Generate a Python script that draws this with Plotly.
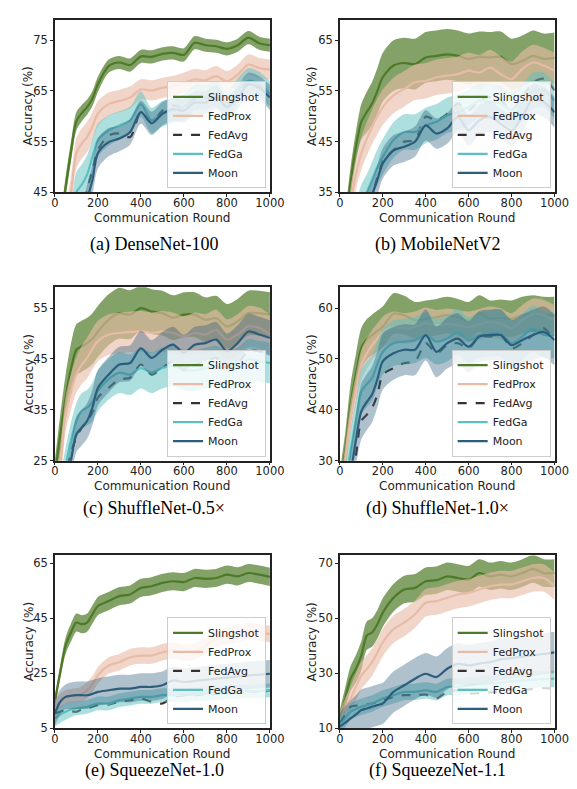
import plotly.graph_objects as go

# ---------------- data ----------------
rounds = [0, 25, 50, 75, 100, 125, 150, 175, 200, 250, 300, 350, 400, 450, 500,
          550, 600, 650, 700, 750, 800, 850, 900, 950, 1000]
methods = ["Slingshot", "FedProx", "FedAvg", "FedGa", "Moon"]
captions = ["(a) DenseNet-100", "(b) MobileNetV2", "(c) ShuffleNet-0.5×",
            "(d) ShuffleNet-1.0×", "(e) SqueezeNet-1.0", "(f) SqueezeNet-1.1"]
y_ranges = [[45, 79], [35, 69], [25, 59.1], [30, 64.1], [5, 67.8], [10, 72.8]]
y_ticks = [[45, 55, 65, 75], [35, 45, 55, 65], [25, 35, 45, 55],
           [30, 40, 50, 60], [5, 25, 45, 65], [10, 30, 50, 70]]
x_ticks = [0, 200, 400, 600, 800, 1000]

# (a) DenseNet-100
a_slingshot = [30, 38, 46, 53, 59, 60.6, 61.8, 63.5, 66.3, 69.9, 70.6, 70.1, 71.8, 71.7, 72.3, 72.5, 72.1, 74.5, 74, 73.8, 73.3, 74, 75.5, 74.4, 74]
a_fedprox = [25, 32, 39, 45, 52.7, 54.6, 55.9, 58, 60.5, 62.4, 63, 63.7, 65.3, 65.1, 65.6, 66, 66.6, 67.3, 67.1, 67.9, 66.9, 68.2, 70.2, 69.5, 69.2]
a_fedavg = [12, 18, 24, 30, 36, 41, 45.5, 49.5, 53.3, 56.2, 56.6, 55.9, 60.8, 58.8, 61.1, 62.1, 61.8, 63.4, 63.4, 64.2, 61.8, 64.4, 66.8, 66, 63.7]
a_fedga = [15, 22, 29, 38, 45, 46.5, 48.5, 52, 55.3, 57.2, 58.2, 59.2, 62.4, 59.2, 60.5, 61.1, 61.8, 63.7, 63.8, 64.4, 62.4, 65, 67, 66.3, 64.4]
a_moon = [10, 16, 22, 28, 34, 39, 43.5, 47.5, 52.7, 54.9, 55.6, 56.9, 60.8, 58.6, 60.5, 61.4, 61.1, 62.7, 62.7, 63.7, 61.8, 63.7, 66.3, 65.6, 63.7]
a_slingshot_sd = [2, 2, 2, 2, 1.8, 1.6, 1.5, 1.5, 1.5, 1.3, 1.3, 1.3, 1.3, 1.3, 1.3, 1.3, 1.3, 1.3, 1.3, 1.3, 1.3, 1.3, 1.3, 1.3, 1.3]
a_fedprox_sd = [3, 3, 3, 3, 3, 3, 3, 2.8, 2.5, 2.3, 2.2, 2.2, 2, 2, 2, 2, 2, 2, 2, 2, 2, 2, 2, 2, 2]
a_fedga_sd = [4, 4, 4, 4, 4, 4, 3.8, 3.5, 3.2, 3, 2.8, 2.7, 2.5, 2.5, 2.5, 2.5, 2.5, 2.5, 2.5, 2.5, 2.5, 2.5, 2.5, 2.5, 2.5]
a_moon_sd = [3, 3, 3, 3, 3, 3, 3, 3, 3, 2.8, 2.5, 2.5, 2.3, 2.3, 2.3, 2.3, 2.3, 2.3, 2.3, 2.3, 2.3, 2.3, 2.3, 2.3, 2.5]

# (b) MobileNetV2
b_slingshot = [20, 28, 37, 44, 48.9, 50.8, 52.5, 55, 57.7, 60, 60.5, 60.3, 61.6, 61.9, 62.2, 61.9, 61.3, 61.7, 61.6, 61.7, 60.3, 60.9, 61.9, 61.3, 61.5]
b_fedprox = [12, 22, 33, 38.5, 42.7, 45.5, 47.9, 50, 51.8, 54.1, 55.4, 56.7, 57, 57.7, 58, 58.3, 59, 58.6, 59.6, 58.3, 57.3, 59.3, 60.6, 60, 59]
b_fedavg = [5, 10, 15, 20, 25, 30, 34, 38, 41, 43.3, 45, 45.3, 49.9, 49.2, 50.5, 52.5, 51.2, 53.1, 53.8, 53.1, 51.2, 53.8, 56.7, 57.4, 55.1]
b_fedga = [12, 18, 24, 29, 33, 35, 37.5, 40, 42, 45.3, 46.9, 46.9, 48.2, 48.9, 50.2, 50.8, 51.8, 53.1, 52.8, 52.5, 51.2, 52.8, 55.1, 55.1, 53.1]
b_moon = [8, 14, 20, 25, 29, 32, 34.5, 37.5, 40.7, 43.3, 44, 45, 48.2, 46.6, 47.6, 49.9, 47.2, 49.2, 49.9, 48.5, 47.2, 49.9, 53.4, 52.8, 50.8]
b_slingshot_sd = [3, 3, 3, 3, 3.5, 4, 4.2, 4.5, 4.8, 5, 5, 5, 5, 5, 5, 5, 5, 5, 5, 5, 5, 5, 5, 5, 5]
b_fedprox_sd = [3, 3, 3, 3, 3.2, 3.3, 3.4, 3.5, 3.5, 3.5, 3.5, 3.5, 3.5, 3.5, 3.5, 3.5, 3.5, 3.5, 3.5, 3.5, 3.5, 3.5, 3.5, 3.5, 3.5]
b_fedga_sd = [3.5, 3.5, 3.5, 3.5, 3.5, 3.5, 3.5, 3.5, 3.5, 3.5, 3.5, 3.5, 3.5, 3.5, 3.5, 3.5, 3.5, 3.5, 3.5, 3.5, 3.5, 3.5, 3.5, 3.5, 3.5]
b_moon_sd = [3, 3, 3, 3, 3, 3, 3, 3, 3, 3, 3, 3, 3, 3, 3, 3, 3, 3, 3, 3, 3, 3, 3, 3, 3]

# (c) ShuffleNet-0.5x
c_slingshot = [22, 30, 37.4, 43, 46.8, 47.5, 48.1, 49, 50.4, 52.7, 54, 53.7, 55, 54.3, 54, 53.1, 53.7, 53.7, 52.7, 53, 51.4, 52.4, 54, 54, 53.7]
c_fedprox = [18, 24, 34.1, 38.5, 41.9, 43.8, 45.2, 47, 48.5, 49.8, 50.1, 50.3, 50.4, 50.1, 50.4, 50.1, 49.4, 50.1, 49.8, 50.7, 48.8, 49.8, 51.4, 51.1, 49.8]
c_fedavg = [10, 14, 22, 26.5, 29.6, 31.5, 32.8, 34.5, 37.4, 39.3, 41, 41.3, 43.9, 41.9, 43.2, 44.5, 42.7, 43.9, 44.5, 45.2, 43.2, 44.2, 46.5, 46.5, 45.8]
c_fedga = [14, 19, 24, 29, 32.8, 34.8, 35.4, 36.5, 38.7, 41, 42.3, 41.9, 43.2, 42.3, 43.2, 43.6, 42.9, 42.7, 43.2, 43.6, 42.7, 43.2, 44.9, 44.5, 44.2]
c_moon = [8, 14, 19, 25, 30.2, 31.5, 32.8, 35.5, 39.3, 41.9, 43.9, 44.2, 47.1, 45.2, 46.8, 47.8, 46.2, 47.8, 48.1, 48.8, 46.5, 48.1, 50.4, 49.8, 49.1]
c_slingshot_sd = [3, 4, 4.5, 5, 5, 5, 5, 5, 5, 5, 5, 4.8, 4.4, 4.4, 4.4, 4.4, 4.4, 4.4, 4.4, 4.4, 4.4, 4.4, 4.4, 4.4, 4.4]
c_fedprox_sd = [3.5, 3.5, 3.5, 3.5, 3.5, 3.8, 4, 4, 4, 4, 4, 4, 4, 4, 4, 4, 4, 4, 4, 4, 4, 4, 4, 4, 4]
c_fedga_sd = [3, 3, 3.5, 3.5, 3.5, 3.5, 3.5, 3.8, 4, 4, 4, 4, 4, 4, 4, 4, 4, 4, 4, 4, 4, 4, 4, 4, 4]
c_moon_sd = [3.5, 3.5, 3.5, 3.5, 3.5, 3.5, 3.5, 3.5, 3.5, 3.5, 3.5, 3.5, 3.5, 3.5, 3.5, 3.5, 3.5, 3.5, 3.5, 3.5, 3.5, 3.5, 3.5, 3.5, 3.5]

# (d) ShuffleNet-1.0x
d_slingshot = [25, 32, 41, 47, 52.1, 53.8, 54.7, 55.5, 56.3, 58.9, 58.6, 57.6, 57.9, 58.2, 58.6, 58.2, 57.6, 58.9, 57.9, 58.1, 57.9, 58.6, 58.9, 58.6, 58.6]
d_fedprox = [22, 30, 38.4, 44, 48.8, 51, 52.7, 54, 55.3, 56.3, 56, 56.3, 57.1, 56.6, 56.9, 56.6, 56.3, 56.8, 57.3, 56.9, 56, 57.6, 58.9, 58.6, 57.6]
d_fedavg = [10, 17, 24, 31, 37.8, 39, 40.4, 43, 46.9, 48.2, 49.2, 49.5, 53.1, 51.1, 52.7, 53.1, 52.1, 54.4, 54.4, 54.7, 52.1, 53.1, 54.7, 56, 53.4]
d_fedga = [18, 25, 32, 38, 43.6, 45, 46.2, 49, 51.4, 53.1, 53.4, 53.7, 54.7, 53.4, 54, 55.3, 53.7, 54.7, 55, 55, 53.1, 54.4, 56, 54.7, 54.7]
d_moon = [12, 19, 27, 34, 39.7, 41.5, 43, 46, 49.5, 51.1, 51.8, 51.8, 54.7, 51.4, 53.1, 54, 52.4, 54.4, 54.7, 54.7, 52.7, 53.7, 54.7, 55.3, 53.7]
d_slingshot_sd = [3, 3.5, 4, 4, 4, 4, 4, 4, 4, 4, 3.8, 3.6, 3.6, 3.6, 3.6, 3.6, 3.6, 3.6, 3.6, 3.6, 3.6, 3.6, 3.6, 3.6, 3.6]
d_fedprox_sd = [3, 3, 3, 3, 3, 3, 3, 3, 3, 3, 3, 3, 3, 3, 3, 3, 3, 3, 3, 3, 3, 3, 3, 3, 3]
d_fedga_sd = [4, 4, 4, 4, 4.5, 4.5, 4.5, 4.5, 4.5, 4.5, 4.5, 4.5, 4.5, 4.5, 4.5, 4.5, 4.5, 4.5, 4.5, 4.5, 4.5, 4.5, 4.5, 4.5, 4.5]
d_moon_sd = [4, 4.5, 5, 5, 5.5, 5.5, 5.5, 5.5, 5.5, 5.2, 5, 5, 5, 5, 5, 5, 5, 5, 5, 5, 5, 5, 5, 5, 5]

# (e) SqueezeNet-1.0
e_slingshot = [14.6, 25.4, 35, 39.8, 43.4, 42.8, 43.4, 46.4, 49.4, 51.2, 53, 53.6, 56, 56.6, 57.8, 58.4, 58.1, 59.6, 59.3, 59.6, 60.8, 60.2, 61.4, 60.8, 60]
e_fedprox = [12.8, 15, 16.4, 16.8, 17, 17.5, 18.8, 21, 24.2, 27.8, 29, 30.8, 31.4, 31.4, 32.6, 33.2, 32.5, 33, 35, 37.6, 38.6, 39.2, 40.4, 39.8, 39.2]
e_fedavg = [10.4, 11, 11.6, 11.2, 11, 11.8, 12.2, 12.8, 13.4, 13.6, 14.6, 15.2, 15.8, 14.6, 14, 16.4, 16.8, 17, 17.2, 17.5, 17.8, 18, 18.5, 18.2, 18.8]
e_fedga = [8.6, 10, 11, 11.8, 12.2, 12.5, 12.8, 13.4, 14, 14, 15.2, 15.8, 16.4, 16.4, 17, 17, 17, 17.3, 17.5, 17.8, 18, 18.2, 18.5, 18.5, 18.8]
e_moon = [10.4, 14.6, 16.4, 16.8, 17, 17, 17, 17.5, 18.2, 18.8, 19.4, 19.4, 20, 20, 20.6, 22.4, 21.8, 22.2, 22.6, 23, 23.4, 23.8, 24.2, 24.5, 24.8]
e_slingshot_sd = [2, 2.5, 3, 3.3, 3.3, 3.3, 3.3, 3.3, 3.3, 3.3, 3.3, 3.3, 3.3, 3.3, 3.3, 3.3, 3.3, 3.3, 3.3, 3.3, 3.3, 3.3, 3.3, 3.3, 3.3]
e_fedprox_sd = [2.5, 2.5, 2.5, 2.5, 2.5, 2.8, 3, 3, 3, 3, 3, 3, 3, 3, 3, 3, 3, 3, 3, 3, 3, 3, 3, 3, 3]
e_fedga_sd = [3, 3, 3, 2.8, 2.5, 2.5, 2.5, 2.5, 2.5, 2.5, 2.5, 2.5, 2.5, 2.5, 2.5, 2.5, 2.5, 2.5, 2.5, 2.5, 2.5, 2.5, 2.5, 2.5, 2.5]
e_moon_sd = [4.5, 4.5, 4.5, 4.8, 5, 5, 5, 5, 5, 5, 5, 5, 5, 5, 5, 5, 5, 5, 5, 5, 5, 5, 5, 5, 5]

# (f) SqueezeNet-1.1
f_slingshot = [13.6, 20.8, 28, 31.6, 36.4, 43.6, 44.8, 47.8, 52, 57.4, 60.4, 61, 63.4, 63.8, 65.2, 64.6, 64, 66.4, 65.2, 65.8, 65.2, 66.4, 67.9, 66.4, 66.4]
f_fedprox = [13, 17, 20.8, 25, 29.2, 31.5, 34, 37.5, 41.2, 46, 48.4, 51.4, 55.6, 56.2, 57.4, 58.6, 59.2, 60.4, 61.6, 62.2, 62.2, 63.4, 64.6, 64.6, 61.6]
f_fedavg = [11.8, 14.8, 17.8, 18.2, 18.4, 18.7, 19, 19.6, 20.2, 21.4, 22, 22, 22.2, 20.8, 23.2, 23.8, 22.6, 22.8, 23, 23.5, 24, 24, 24.2, 24.6, 24.4]
f_fedga = [11.2, 13.5, 16, 17, 17.8, 18.4, 19, 19.9, 20.8, 22, 23.2, 23.2, 23.8, 23.2, 25, 25, 25.6, 26, 26.3, 26.6, 27, 27.3, 27.6, 27.8, 28]
f_moon = [10.6, 12, 13.6, 15, 16.6, 17.2, 17.8, 18.4, 19, 23.2, 25.6, 28, 29.8, 28.6, 31.6, 33.4, 32.8, 33.5, 34, 35, 35.5, 36, 36.5, 37, 37.6]
f_slingshot_sd = [3, 4, 4.5, 5, 5.2, 5.2, 5.2, 5.2, 5.2, 5, 5, 5, 5, 5, 5, 5, 5, 5, 5, 5, 5, 5, 5, 5, 5]
f_fedprox_sd = [3, 4, 4.5, 5, 5, 5, 5, 5, 5, 5, 5, 5, 5, 5, 5, 5, 5, 5, 5, 5, 5, 5, 5, 5, 5]
f_fedga_sd = [3, 3, 3, 3, 3, 3, 3, 3, 3, 3, 3, 3, 3, 3, 3, 3, 3, 3, 3, 3, 3, 3, 3, 3, 3]
f_moon_sd = [5, 6, 6.5, 7, 7.5, 7.5, 7.5, 7.5, 7.5, 7.5, 7.5, 7.5, 7.5, 7.5, 7.5, 7.5, 7.5, 7.5, 7.5, 7.5, 7.5, 7.5, 7.5, 7.5, 7.5]

panels = [
    [a_slingshot, a_fedprox, a_fedavg, a_fedga, a_moon],
    [b_slingshot, b_fedprox, b_fedavg, b_fedga, b_moon],
    [c_slingshot, c_fedprox, c_fedavg, c_fedga, c_moon],
    [d_slingshot, d_fedprox, d_fedavg, d_fedga, d_moon],
    [e_slingshot, e_fedprox, e_fedavg, e_fedga, e_moon],
    [f_slingshot, f_fedprox, f_fedavg, f_fedga, f_moon],
]
spreads = [
    [a_slingshot_sd, a_fedprox_sd, None, a_fedga_sd, a_moon_sd],
    [b_slingshot_sd, b_fedprox_sd, None, b_fedga_sd, b_moon_sd],
    [c_slingshot_sd, c_fedprox_sd, None, c_fedga_sd, c_moon_sd],
    [d_slingshot_sd, d_fedprox_sd, None, d_fedga_sd, d_moon_sd],
    [e_slingshot_sd, e_fedprox_sd, None, e_fedga_sd, e_moon_sd],
    [f_slingshot_sd, f_fedprox_sd, None, f_fedga_sd, f_moon_sd],
]

# ---------------- styles ----------------
line_colors = ["#4e7a27", "#e8bba6", "#3a302c", "#5cc0c0", "#2c5d7c"]
band_colors = ["rgba(78,122,39,0.70)", "rgba(232,187,166,0.62)", None,
               "rgba(92,192,192,0.50)", "rgba(44,93,124,0.38)"]
line_widths = [2.2, 2.2, 2.2, 2.2, 2.2]
dashes = ["solid", "solid", "dash", "solid", "solid"]

W, H = 577, 789
col_x = [(44.3, 266.7), (339.0, 561.0)]
row_y = [(12.0, 186.0), (281.7, 456.7), (552.3, 726.7)]
title_x = [17, 310]
caption_cx = [147, 440]
caption_y = [239, 505, 769]
TXT = "#222222"


def px(x):
    return x / W


def py(y):
    return 1 - y / H


fig = go.Figure()
layout = dict(
    width=W, height=H, margin=dict(l=0, r=0, t=0, b=0),
    paper_bgcolor="white", plot_bgcolor="white",
    font=dict(family="DejaVu Sans", size=12, color=TXT),
    annotations=[],
)

for i in range(6):
    r, c = divmod(i, 2)
    n = "" if i == 0 else str(i + 1)
    xa, ya = "x" + n, "y" + n
    lg = "legend" + n
    x0, x1 = col_x[c]
    y0, y1 = row_y[r]
    for k, m in enumerate(methods):
        vals = panels[i][k]
        sd = spreads[i][k]
        if sd is not None:
            lower = [v - s for v, s in zip(vals, sd)]
            upper = [v + s for v, s in zip(vals, sd)]
            fig.add_trace(go.Scatter(x=rounds, y=lower, xaxis=xa, yaxis=ya, mode="lines",
                                     line=dict(width=0, shape="spline", smoothing=0.8),
                                     showlegend=False, hoverinfo="skip", legend=lg))
            fig.add_trace(go.Scatter(x=rounds, y=upper, xaxis=xa, yaxis=ya, mode="lines",
                                     line=dict(width=0, shape="spline", smoothing=0.8),
                                     fill="tonexty", fillcolor=band_colors[k],
                                     showlegend=False, hoverinfo="skip", legend=lg))
        fig.add_trace(go.Scatter(x=rounds, y=vals, xaxis=xa, yaxis=ya, mode="lines", name=m,
                                 line=dict(color=line_colors[k], width=line_widths[k],
                                           dash=dashes[k], shape="spline", smoothing=0.8),
                                 legend=lg, showlegend=True))

    axis_common = dict(showline=True, mirror=True, linecolor=TXT, linewidth=1.5,
                       ticks="outside", ticklen=3, tickwidth=1, tickcolor=TXT,
                       showgrid=False, zeroline=False,
                       tickfont=dict(family="DejaVu Sans", size=11.5, color=TXT))
    layout["xaxis" + n] = dict(domain=[px(x0), px(x1)], anchor=ya, range=[0, 1000],
                               tickvals=x_ticks, ticklabelstandoff=-4, **axis_common)
    layout["yaxis" + n] = dict(domain=[py(y1), py(y0)], anchor=xa, range=y_ranges[i],
                               tickvals=y_ticks[i], **axis_common)
    layout[lg] = dict(x=px(x1 - 4), y=py(y1 - 4), xanchor="right", yanchor="bottom",
                      traceorder="normal",
                      bgcolor="rgba(255,255,255,0.8)", bordercolor="#cccccc", borderwidth=1,
                      font=dict(family="DejaVu Sans", size=11, color=TXT),
                      tracegroupgap=0, itemwidth=30)
    layout["annotations"].append(dict(
        text="Communication Round", x=px((x0 + x1) / 2), y=py(y1 + 26), xref="paper",
        yref="paper", showarrow=False, xanchor="center", yanchor="middle",
        font=dict(family="DejaVu Sans", size=12, color=TXT)))
    layout["annotations"].append(dict(
        text="Accuracy (%)", x=px(title_x[c]), y=py((y0 + y1) / 2), xref="paper",
        yref="paper", showarrow=False, xanchor="center", yanchor="middle", textangle=-90,
        font=dict(family="DejaVu Sans", size=12, color=TXT)))
    layout["annotations"].append(dict(
        text=captions[i], x=px(caption_cx[c]), y=py(caption_y[r]), xref="paper",
        yref="paper", showarrow=False, xanchor="center", yanchor="middle",
        font=dict(family="Liberation Serif", size=18, color="#000000")))

fig.update_layout(**layout)
fig.write_html("out.html")
